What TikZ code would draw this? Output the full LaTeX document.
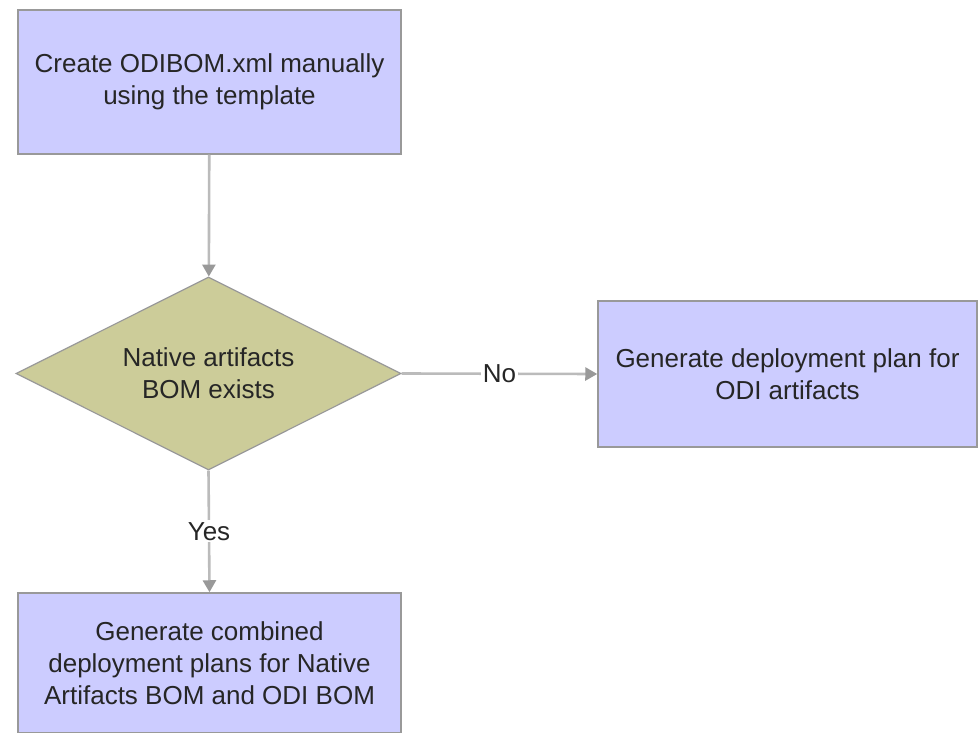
\documentclass[tikz,border=0pt]{standalone}
\usepackage{fontspec}
\setmainfont{Liberation Sans}
\usepackage{tikz}
\usetikzlibrary{shapes.geometric,arrows.meta}
\definecolor{StepBlue}{HTML}{CCCCFF}
\definecolor{TestKhaki}{HTML}{CCCC99}
\definecolor{EdgeGray}{HTML}{999999}
\definecolor{FlowGray}{HTML}{BBBBBB}
\definecolor{InkGray}{HTML}{262626}

\begin{document}
\begin{tikzpicture}[x=1pt, y=1pt,
    every node/.style={font=\fontsize{26}{32}\selectfont, text=InkGray, align=center},
    stepbox/.style={draw=EdgeGray, line width=1.5pt, fill=StepBlue, inner sep=0pt},
    testbox/.style={diamond, aspect=2, draw=EdgeGray, line width=1.2pt, fill=TestKhaki,
      minimum width=385pt, minimum height=193pt, inner sep=0pt},
    flow/.style={draw=FlowGray, line width=2.6pt, -{Triangle[length=12pt,width=13pt,color=EdgeGray]}},
    lbl/.style={fill=white, inner sep=2pt}]
  \useasboundingbox (0,0) rectangle (979,732);
  \fill[white] (0,0) rectangle (979,732);
  \node[stepbox, minimum width=383pt, minimum height=144pt] (create) at (209.5,650)
    {Create ODIBOM.xml manually\\using the template};
  \node[testbox] (native) at (208.5,358.5) {Native artifacts\\BOM exists};
  \node[stepbox, minimum width=379pt, minimum height=146pt] (odiplan) at (787.5,358)
    {Generate deployment plan for\\ODI artifacts};
  \node[stepbox, minimum width=383pt, minimum height=140pt] (combined) at (209.5,69)
    {Generate combined\\deployment plans for Native\\Artifacts BOM and ODI BOM};
  \draw[flow] (create) -- (native);
  \draw[flow] (native.east) -- node[lbl] {No} (odiplan.west);
  \draw[flow] (native.south) -- node[lbl] {Yes} (combined.north);
\end{tikzpicture}
\end{document}
